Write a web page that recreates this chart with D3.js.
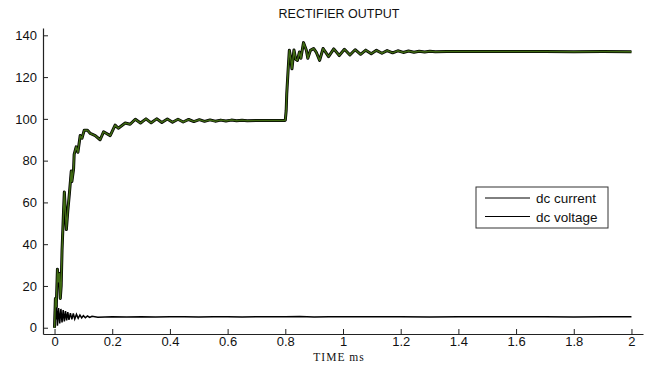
<!DOCTYPE html>
<html>
<head>
<meta charset="utf-8">
<script src="https://cdn.jsdelivr.net/npm/d3@7"></script>
<style>
  body { margin: 0; background: #fff; }
  svg { display: block; font-family: 'Liberation Sans', Arial, sans-serif; }
</style>
</head>
<body>
<figure id="rectifier-chart" style="margin:0"></figure>
<script>
// time axis (ms) for dc voltage
const voltageTime = [
  0, 0.003, 0.006, 0.010, 0.013, 0.017, 0.020, 0.023, 0.026, 0.031, 0.034, 0.041,
  0.046, 0.052, 0.058, 0.060, 0.066, 0.068, 0.075, 0.081, 0.089, 0.095, 0.103, 0.114,
  0.124, 0.141, 0.158, 0.170, 0.193, 0.210, 0.221, 0.245, 0.262, 0.280, 0.298, 0.317,
  0.335, 0.354, 0.372, 0.391, 0.409, 0.428, 0.446, 0.465, 0.483, 0.502, 0.520, 0.539,
  0.557, 0.576, 0.594, 0.613, 0.631, 0.650, 0.668, 0.700, 0.740, 0.780, 0.797, 0.800,
  0.803, 0.805, 0.810, 0.814, 0.820, 0.823, 0.830, 0.836, 0.842, 0.849, 0.854, 0.863,
  0.873, 0.878, 0.887, 0.898, 0.907, 0.919, 0.931, 0.950, 0.968, 0.987, 1.005, 1.024,
  1.042, 1.061, 1.079, 1.098, 1.116, 1.135, 1.153, 1.172, 1.190, 1.209, 1.227, 1.246,
  1.264, 1.283, 1.301, 1.320, 1.360, 1.420, 1.500, 1.600, 1.700, 1.800, 1.900, 2.000
];
const voltageValues = [
  0, 14, 10, 28, 22, 26, 14, 20, 37, 55, 65, 47,
  56, 65, 75, 70, 76, 83, 86.6, 84, 92, 90.7, 94.6, 94.6,
  93, 92, 90, 93.8, 92, 97, 95.5, 98, 97.4, 99.8, 98.0, 100.0,
  98.1, 100.0, 98.3, 99.9, 98.4, 99.8, 98.5, 99.7, 98.7, 99.6, 98.8, 99.5,
  98.9, 99.4, 99.0, 99.4, 99.1, 99.3, 99.1, 99.2, 99.2, 99.2, 99.2, 99.4,
  104, 112, 124, 132.8, 128, 124, 133, 128.5, 128, 132, 129, 136.5,
  132.8, 129, 132.8, 133.7, 132, 128, 133.7, 129.8, 133.5, 130.3, 133.3, 130.6,
  133.1, 130.9, 132.9, 131.2, 132.8, 131.4, 132.7, 131.6, 132.6, 131.8, 132.5, 131.9,
  132.4, 132.0, 132.4, 132.1, 132.3, 132.2, 132.2, 132.2, 132.2, 132.1, 132.2, 132.1
];

// time axis (ms) for dc current
const currentTime = [
  0, 0.001, 0.004, 0.007, 0.010, 0.014, 0.018, 0.022, 0.026, 0.030, 0.034, 0.038,
  0.042, 0.046, 0.050, 0.055, 0.060, 0.065, 0.070, 0.076, 0.082, 0.088, 0.094, 0.100,
  0.107, 0.114, 0.122, 0.130, 0.150, 0.200, 0.250, 0.300, 0.350, 0.400, 0.450, 0.500,
  0.550, 0.600, 0.650, 0.700, 0.750, 0.800, 0.850, 0.900, 0.950, 1.000, 1.100, 1.200,
  1.300, 1.400, 1.500, 1.600, 1.700, 1.800, 1.900, 2.000
];
const currentValues = [
  0, 13, 4, 11, 1, 9.4, 2, 9, 2.5, 8.5, 3, 8,
  3.5, 7.5, 3.8, 7, 4, 6.8, 4.2, 6.4, 4.5, 6.1, 4.7, 5.8,
  4.8, 5.6, 4.9, 5.5, 5.0, 5.2, 5.1, 5.3, 5.1, 5.2, 5.3, 5.1,
  5.2, 5.2, 5.1, 5.3, 5.2, 5.2, 5.4, 5.1, 5.3, 5.2, 5.2, 5.3,
  5.1, 5.2, 5.2, 5.3, 5.2, 5.1, 5.2, 5.2
];

const xTicks = [0, 0.2, 0.4, 0.6, 0.8, 1, 1.2, 1.4, 1.6, 1.8, 2];
const yTicks = [0, 20, 40, 60, 80, 100, 120, 140];
const legendLabels = ['dc current', 'dc voltage'];

const width = 651;
const height = 374;
const plot = { left: 43, right: 643, top: 28, bottom: 334 };

const svg = d3.select('figure#rectifier-chart')
  .append('svg')
  .attr('width', width)
  .attr('height', height);

// scales
const x = d3.scaleLinear().domain([-0.04, 2.04]).range([plot.left, plot.right]);
const y = d3.scaleLinear().domain([-3, 143.5]).range([plot.bottom, plot.top]);

// axes, ticks pointing inward
const xAxis = svg.append('g')
  .attr('transform', 'translate(0,' + plot.bottom + ')')
  .call(d3.axisBottom(x).tickValues(xTicks).tickFormat(d3.format('~g'))
    .tickSizeInner(-5).tickSizeOuter(0).tickPadding(3));

const yAxis = svg.append('g')
  .attr('transform', 'translate(' + plot.left + ',0)')
  .call(d3.axisLeft(y).tickValues(yTicks)
    .tickSizeInner(-5).tickSizeOuter(0).tickPadding(6));

[xAxis, yAxis].forEach((g) => {
  g.selectAll('path.domain').attr('stroke', '#222').attr('stroke-width', 1.2);
  g.selectAll('.tick line').attr('stroke', '#222');
  g.selectAll('.tick text')
    .attr('fill', '#111')
    .style('font-size', '13px')
    .style('font-family', "'Liberation Sans', Arial, sans-serif");
});

// line generator
const line = d3.line()
  .x((d) => x(d[0]))
  .y((d) => y(d[1]));

const voltage = d3.zip(voltageTime, voltageValues);
const current = d3.zip(currentTime, currentValues);

// dc current
svg.append('path')
  .datum(current)
  .attr('fill', 'none')
  .attr('stroke', '#000')
  .attr('stroke-width', 1.5)
  .attr('d', line);

// dc voltage: black outline with green core
svg.append('path')
  .datum(voltage)
  .attr('fill', 'none')
  .attr('stroke', '#000')
  .attr('stroke-width', 3)
  .attr('stroke-linejoin', 'round')
  .attr('d', line);

svg.append('path')
  .datum(voltage)
  .attr('fill', 'none')
  .attr('stroke', '#3f6a12')
  .attr('stroke-width', 1.5)
  .attr('stroke-linejoin', 'round')
  .attr('d', line);

// title and axis label
svg.append('text')
  .attr('x', 339)
  .attr('y', 18)
  .attr('text-anchor', 'middle')
  .style('font-size', '12.5px')
  .attr('fill', '#111')
  .text('RECTIFIER OUTPUT');

svg.append('text')
  .attr('x', 339)
  .attr('y', 361)
  .attr('text-anchor', 'middle')
  .style('font-family', "'Liberation Serif', 'Times New Roman', serif")
  .style('font-size', '11.5px')
  .style('letter-spacing', '1px')
  .attr('fill', '#111')
  .text('TIME ms');

// legend
const legend = svg.append('g').attr('transform', 'translate(476,187)');

legend.append('rect')
  .attr('width', 132)
  .attr('height', 41)
  .attr('fill', '#fff')
  .attr('stroke', '#333')
  .attr('stroke-width', 1);

legendLabels.forEach((label, i) => {
  const ly = 11 + i * 18.5;
  legend.append('line')
    .attr('x1', 9).attr('x2', 54)
    .attr('y1', ly).attr('y2', ly)
    .attr('stroke', '#000')
    .attr('stroke-width', 1);
  legend.append('text')
    .attr('x', 60)
    .attr('y', ly + 5)
    .style('font-size', '13.5px')
    .attr('fill', '#111')
    .text(label);
});
</script>
</body>
</html>
